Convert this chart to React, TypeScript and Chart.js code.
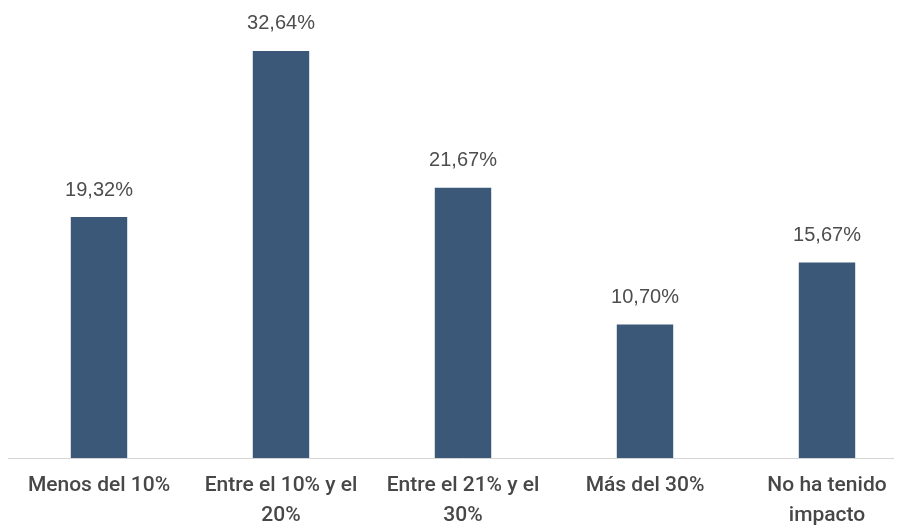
import React, { useEffect, useRef } from "react";
import { Chart, registerables } from "chart.js";

Chart.register(...registerables);

const categories: string[][] = [
  ["Menos del 10%"],
  ["Entre el 10% y el", "20%"],
  ["Entre el 21% y el", "30%"],
  ["Más del 30%"],
  ["No ha tenido", "impacto"],
];
const values: number[] = [19.32, 32.64, 21.67, 10.7, 15.67];
const valueLabels: string[] = ["19,32%", "32,64%", "21,67%", "10,70%", "15,67%"];

const valueLabelPlugin = {
  id: "valueLabels",
  afterDatasetsDraw(chart: any) {
    const { ctx } = chart;
    const meta = chart.getDatasetMeta(0);
    ctx.save();
    ctx.font = "20px 'Liberation Sans', Arial, sans-serif";
    ctx.fillStyle = "#4d4d4d";
    ctx.textAlign = "center";
    ctx.textBaseline = "middle";
    meta.data.forEach((bar: any, i: number) => {
      ctx.fillText(valueLabels[i], bar.x, bar.y - 27);
    });
    ctx.restore();
  },
};

export default function App() {
  const ref = useRef<HTMLCanvasElement | null>(null);
  useEffect(() => {
    if (!ref.current) return;
    const chart = new Chart(ref.current, {
      type: "bar",
      data: {
        labels: categories,
        datasets: [
          {
            data: values,
            backgroundColor: "#3b5878",
            barPercentage: 0.31,
            categoryPercentage: 1,
          },
        ],
      },
      options: {
        responsive: false,
        animation: false,
        layout: { padding: { top: 1, left: 0, right: 0, bottom: 0 } },
        plugins: { legend: { display: false }, tooltip: { enabled: false } },
        scales: {
          x: {
            grid: { display: false },
            border: { display: true, color: "#d4d4d4", width: 1 },
            ticks: {
              color: "#474747",
              font: { family: "Roboto, sans-serif", size: 21, weight: 500, lineHeight: 1.43 },
              padding: 5,
              maxRotation: 0,
              autoSkip: false,
            },
            afterFit(scale: any) {
              scale.height = 69;
            },
          },
          y: {
            display: false,
            min: 0,
            max: 36,
          },
        },
      },
      plugins: [valueLabelPlugin],
    });
    return () => chart.destroy();
  }, []);
  return (
    <div style={{ width: 894, overflow: "hidden" }}>
      <canvas ref={ref} width={910} height={519} style={{ display: "block" }} />
    </div>
  );
}
